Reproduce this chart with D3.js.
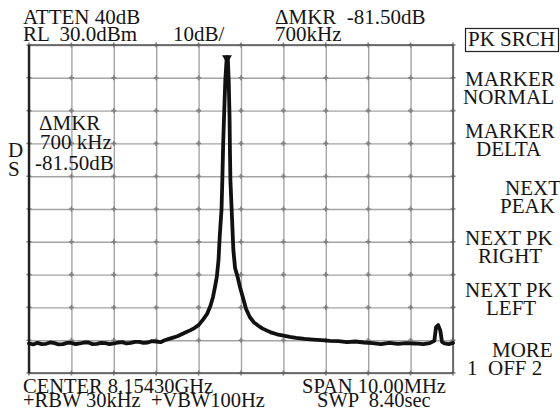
<!DOCTYPE html>
<html lang="en">
<head>
    <meta charset="UTF-8">
    <title>Spectrum Analyzer Delta Marker</title>
    <script src="https://d3js.org/d3.v7.min.js"></script>
    <style>
        body {
            margin: 0;
            background: #fff;
        }
        svg text {
            font-family: "Liberation Serif", "Times New Roman", serif;
            font-size: 21px;
            fill: #151515;
            white-space: pre;
        }
        svg text.foot {
            font-size: 20.5px;
        }
        .grid line {
            stroke: #a4a4a4;
            stroke-width: 1.4px;
        }
        .grid path {
            display: none;
        }
    </style>
</head>
<body>
<script>
    // Trace: offset from center (MHz) and level (dBm)
    const freqMHz = [
        -5.0, -4.9, -4.8, -4.7, -4.6, -4.5, -4.4, -4.3, -4.2, -4.1, -4.0, -3.9, -3.8,
        -3.7, -3.6, -3.5, -3.4, -3.3, -3.2, -3.1, -3.0, -2.9, -2.8, -2.7, -2.6, -2.5,
        -2.4, -2.3, -2.2, -2.1, -2.0, -1.9, -1.8, -1.7, -1.6, -1.5, -1.4, -1.3, -1.2,
        -1.1, -1.0, -0.9, -0.8, -0.72, -0.66, -0.61, -0.57, -0.53, -0.5, -0.46,
        -0.44, -0.42, -0.4, -0.37, -0.34, -0.33, -0.31, -0.29, -0.27, -0.26,
        -0.25, -0.22, -0.18, -0.14, -0.08, -0.02, 0.05, 0.12, 0.21, 0.3, 0.4,
        0.5, 0.6, 0.7, 0.85, 1.0, 1.15, 1.3, 1.5, 1.7, 1.9, 2.1, 2.3, 2.5, 2.7, 2.9,
        3.1, 3.3, 3.5, 3.7, 3.9, 4.1, 4.3, 4.45, 4.56, 4.6, 4.65, 4.7, 4.74, 4.8, 4.9, 5.0
    ];
    const levelDbm = [
        -61.0, -61.3, -60.8, -61.2, -61.1, -60.7, -60.9, -61.3, -61.2, -60.8, -60.8, -61.2, -61.0,
        -60.7, -60.7, -61.2, -61.1, -60.8, -60.9, -61.2, -61.0, -60.7, -60.6, -61.0, -60.8, -60.5,
        -60.5, -60.8, -60.7, -60.3, -60.4, -60.6, -60.0, -59.6, -59.2, -58.8, -58.2, -57.6, -57.0,
        -56.3, -55.4, -53.8, -52.0, -49.5, -46.8, -43.5, -40.7, -35.5, -28.0, -20.3,
        -11.2, 0.0, 8.0, 19.3, 25.5, 26.3, 25.5, 19.3, 8.0, -3.0,
        -11.2, -20.3, -32.5, -38.0, -40.7, -44.0, -47.2, -50.5, -53.0, -54.5, -55.5,
        -56.4, -57.0, -57.6, -58.2, -58.6, -59.0, -59.3, -59.6, -59.8, -60.0, -60.2, -60.3, -60.6, -60.4, -60.7,
        -60.9, -61.2, -60.8, -61.1, -60.9, -61.0, -61.2, -60.9, -60.2, -56.0, -55.4, -57.0, -60.5, -61.0, -61.2, -60.8
    ];

    // Screen annotations
    const headerLines = [
        { text: "ATTEN 40dB", x: 23, y: 24 },
        { text: "RL  30.0dBm", x: 23, y: 41 },
        { text: "10dB/", x: 173, y: 41 },
        { text: "\u0394MKR  -81.50dB", x: 275, y: 24 },
        { text: "700kHz", x: 275, y: 41 }
    ];
    const footerLines = [
        { text: "CENTER 8.15430GHz", x: 23, y: 393 },
        { text: "+RBW 30kHz  +VBW100Hz", x: 23, y: 407 },
        { text: "SPAN 10.00MHz", x: 302, y: 393 },
        { text: "SWP  8.40sec", x: 317, y: 407 }
    ];
    const markerLines = [
        { text: "\u0394MKR", x: 39, y: 130 },
        { text: "700 kHz", x: 40, y: 149 },
        { text: "-81.50dB", x: 35, y: 170 },
        { text: "D", x: 8, y: 157 },
        { text: "S", x: 8, y: 176 }
    ];
    const softKeys = [
        { text: "PK SRCH", x: 468, y: 46 },
        { text: "MARKER", x: 465, y: 86 },
        { text: "NORMAL", x: 463, y: 104 },
        { text: "MARKER", x: 465, y: 138 },
        { text: "DELTA", x: 476, y: 156 },
        { text: "NEXT", x: 505, y: 195 },
        { text: "PEAK", x: 500, y: 213 },
        { text: "NEXT PK", x: 465, y: 245 },
        { text: "RIGHT", x: 478, y: 263 },
        { text: "NEXT PK", x: 465, y: 297 },
        { text: "LEFT", x: 486, y: 315 },
        { text: "MORE", x: 492, y: 357 },
        { text: "1  OFF 2", x: 467, y: 375 }
    ];

    const width = 560;
    const height = 416;
    const plot = { left: 29, right: 453, top: 45, bottom: 373 };

    const svg = d3.select("body")
        .append("svg")
        .attr("width", width)
        .attr("height", height);

    svg.append("rect")
        .attr("width", width)
        .attr("height", height)
        .attr("fill", "#fff");

    const x = d3.scaleLinear().domain([-5, 5]).range([plot.left, plot.right]);
    const y = d3.scaleLinear().domain([-70, 30]).range([plot.bottom, plot.top]);

    // graticule: 10 x 10 divisions
    svg.append("g")
        .attr("class", "grid")
        .attr("transform", `translate(0,${plot.bottom})`)
        .call(d3.axisBottom(x).ticks(10).tickSize(-(plot.bottom - plot.top)).tickFormat(""));

    svg.append("g")
        .attr("class", "grid")
        .attr("transform", `translate(${plot.left},0)`)
        .call(d3.axisLeft(y).ticks(10).tickSize(-(plot.right - plot.left)).tickFormat(""));

    // little darker crosses where the grid lines meet
    const cross = [];
    x.ticks(10).forEach(fx => y.ticks(10).forEach(ly => cross.push([x(fx), y(ly)])));
    svg.append("g")
        .selectAll("path")
        .data(cross)
        .join("path")
        .attr("d", d => `M${d[0] - 2.5},${d[1]}h5M${d[0]},${d[1] - 2.5}v5`)
        .attr("stroke", "#808080")
        .attr("stroke-width", 1.6);

    // frame
    svg.append("rect")
        .attr("x", plot.left)
        .attr("y", plot.top)
        .attr("width", plot.right - plot.left)
        .attr("height", plot.bottom - plot.top)
        .attr("fill", "none")
        .attr("stroke", "#5a5a5a")
        .attr("stroke-width", 1.6);

    svg.append("line")
        .attr("x1", plot.left).attr("x2", plot.left)
        .attr("y1", plot.top).attr("y2", plot.bottom)
        .attr("stroke", "#222")
        .attr("stroke-width", 2.4);

    // trace
    const trace = freqMHz.map((f, i) => [f, levelDbm[i]]);
    const line = d3.line()
        .x(d => x(d[0]))
        .y(d => y(d[1]));

    svg.append("path")
        .datum(trace)
        .attr("d", line)
        .attr("fill", "none")
        .attr("stroke", "#111")
        .attr("stroke-width", 3.8)
        .attr("stroke-linejoin", "round")
        .attr("stroke-linecap", "round");

    // marker sitting on the peak
    const peak = trace.reduce((a, b) => (b[1] > a[1] ? b : a));
    svg.append("path")
        .attr("transform", `translate(${x(peak[0])},${y(peak[1]) + 1}) rotate(180)`)
        .attr("d", d3.symbol().type(d3.symbolTriangle).size(42))
        .attr("fill", "#111");

    // texts
    svg.append("g")
        .selectAll("text")
        .data(headerLines.concat(markerLines, softKeys))
        .join("text")
        .attr("x", d => d.x)
        .attr("y", d => d.y)
        .text(d => d.text);

    svg.append("g")
        .selectAll("text")
        .data(footerLines)
        .join("text")
        .attr("class", "foot")
        .attr("x", d => d.x)
        .attr("y", d => d.y)
        .text(d => d.text);

    // box around the active softkey
    svg.append("rect")
        .attr("x", 465.5)
        .attr("y", 28.5)
        .attr("width", 93)
        .attr("height", 23)
        .attr("fill", "none")
        .attr("stroke", "#222")
        .attr("stroke-width", 1.2);
</script>
</body>
</html>
